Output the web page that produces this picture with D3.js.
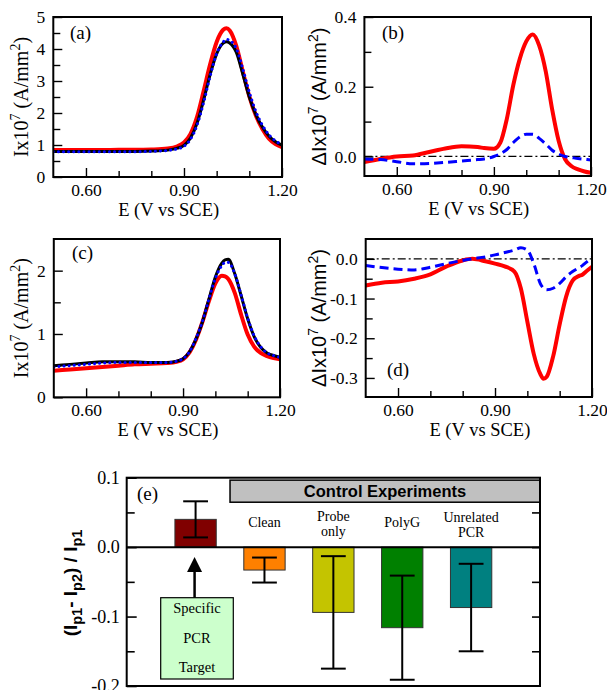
<!DOCTYPE html>
<html>
<head>
<meta charset="utf-8">
<script src="https://cdn.jsdelivr.net/npm/d3@7"></script>
<style>
    body { margin: 0; background: #fff; }
    svg { display: block; }
</style>
</head>
<body>
<script>
// ---- data ----

// (a) voltammograms
var eA = [0.50, 0.55, 0.60, 0.65, 0.70, 0.75, 0.80, 0.85, 0.88, 0.90, 0.92, 0.94, 0.96, 0.98, 1.00, 1.02, 1.03, 1.04, 1.06, 1.08, 1.10, 1.12, 1.14, 1.16, 1.18, 1.20];
var aRed = [0.84, 0.84, 0.84, 0.84, 0.85, 0.85, 0.86, 0.89, 0.96, 1.08, 1.35, 1.88, 2.68, 3.52, 4.22, 4.60, 4.65, 4.58, 4.10, 3.30, 2.52, 1.92, 1.50, 1.20, 1.03, 0.93];
var aBlack = [0.80, 0.80, 0.80, 0.80, 0.80, 0.80, 0.81, 0.84, 0.90, 0.99, 1.22, 1.68, 2.40, 3.20, 3.85, 4.18, 4.23, 4.19, 3.90, 3.22, 2.50, 1.95, 1.56, 1.28, 1.10, 1.00];
var aBlue = [0.79, 0.79, 0.79, 0.79, 0.79, 0.79, 0.80, 0.83, 0.88, 0.96, 1.18, 1.62, 2.32, 3.15, 3.85, 4.22, 4.30, 4.27, 4.02, 3.38, 2.65, 2.05, 1.62, 1.32, 1.13, 1.01];

// (b) difference curves
var eB = [0.50, 0.55, 0.60, 0.65, 0.70, 0.75, 0.80, 0.85, 0.87, 0.90, 0.92, 0.94, 0.96, 0.98, 1.00, 1.02, 1.04, 1.06, 1.08, 1.10, 1.12, 1.14, 1.16, 1.18, 1.20];
var bRed = [-0.016, -0.007, 0.000, 0.003, 0.013, 0.023, 0.029, 0.027, 0.024, 0.022, 0.040, 0.108, 0.205, 0.280, 0.330, 0.350, 0.318, 0.245, 0.135, 0.045, -0.008, -0.028, -0.037, -0.043, -0.047];
var bBlue = [-0.007, -0.009, -0.015, -0.021, -0.020, -0.017, -0.013, -0.009, -0.007, 0.000, 0.008, 0.020, 0.040, 0.056, 0.064, 0.064, 0.052, 0.036, 0.018, 0.007, 0.000, -0.003, -0.006, -0.008, -0.010];

// (c) voltammograms
var eC = [0.50, 0.55, 0.60, 0.65, 0.70, 0.75, 0.80, 0.85, 0.88, 0.90, 0.92, 0.94, 0.96, 0.98, 1.00, 1.02, 1.03, 1.04, 1.06, 1.08, 1.10, 1.12, 1.14, 1.16, 1.18, 1.20];
var cRed = [0.42, 0.44, 0.46, 0.48, 0.50, 0.52, 0.53, 0.54, 0.56, 0.60, 0.71, 0.91, 1.19, 1.52, 1.80, 1.92, 1.91, 1.87, 1.65, 1.30, 0.99, 0.80, 0.70, 0.65, 0.62, 0.60];
var cBlack = [0.50, 0.52, 0.54, 0.56, 0.56, 0.56, 0.55, 0.55, 0.57, 0.61, 0.72, 0.92, 1.19, 1.55, 1.90, 2.12, 2.17, 2.18, 1.95, 1.60, 1.24, 0.96, 0.79, 0.70, 0.66, 0.63];
var cBlue = [0.48, 0.50, 0.52, 0.54, 0.55, 0.55, 0.55, 0.55, 0.57, 0.61, 0.72, 0.93, 1.20, 1.55, 1.88, 2.08, 2.13, 2.13, 1.95, 1.61, 1.25, 0.97, 0.80, 0.70, 0.66, 0.63];

// (d) difference curves
var eD = [0.50, 0.55, 0.60, 0.65, 0.70, 0.75, 0.80, 0.83, 0.87, 0.90, 0.93, 0.96, 0.98, 1.00, 1.02, 1.04, 1.05, 1.06, 1.08, 1.10, 1.12, 1.14, 1.16, 1.17, 1.18, 1.20];
var dRed = [-0.067, -0.060, -0.057, -0.050, -0.039, -0.019, -0.004, 0.000, -0.006, -0.012, -0.019, -0.032, -0.075, -0.158, -0.240, -0.290, -0.302, -0.297, -0.245, -0.165, -0.095, -0.055, -0.043, -0.040, -0.033, -0.020];
var dBlue = [-0.017, -0.022, -0.026, -0.028, -0.021, -0.012, -0.004, 0.000, 0.005, 0.010, 0.016, 0.022, 0.028, 0.022, -0.012, -0.062, -0.074, -0.078, -0.074, -0.062, -0.045, -0.032, -0.022, -0.017, -0.010, 0.003];

// (e) bar chart
var barNames = ["Specific PCR Target", "Clean", "Probe only", "PolyG", "Unrelated PCR"];
var barValues = [0.040, -0.033, -0.094, -0.116, -0.087];
var barErrors = [0.026, 0.018, 0.081, 0.075, 0.063];
var barColors = ["#800000", "#ff8000", "#c4c400", "#008000", "#008080"];

var xTickMajor = [0.6, 0.9, 1.2];
var xTickMinor = [0.7, 0.8, 1.0, 1.1];

var SERIF = "'Liberation Serif', 'Times New Roman', serif";
var SANS = "'Liberation Sans', Arial, sans-serif";

var svg = d3.select("body").append("svg")
    .attr("width", 607)
    .attr("height", 690);

svg.append("rect").attr("width", 607).attr("height", 690).attr("fill", "#fff");

var clipCount = 0;

function fixed1(d) {
    return d.toFixed(1);
}

function createPanel(p) {
    var x = d3.scaleLinear().domain([0.5, 1.2]).range([p.left, p.right]);
    var y = d3.scaleLinear().domain(p.yDomain).range([p.bottom, p.top]);
    var g = svg.append("g");

    // x axis, ticks pointing into the box
    var xMajor = g.append("g")
        .attr("transform", "translate(0," + p.bottom + ")")
        .call(d3.axisBottom(x).tickValues(xTickMajor).tickSizeInner(-9).tickSizeOuter(0)
            .tickPadding(6.5).tickFormat(function (d) { return d.toFixed(2); }));
    g.append("g")
        .attr("transform", "translate(0," + p.bottom + ")")
        .call(d3.axisBottom(x).tickValues(xTickMinor).tickSizeInner(-6).tickSizeOuter(0).tickFormat(""));

    var yMajor = g.append("g")
        .attr("transform", "translate(" + p.left + ",0)")
        .call(d3.axisLeft(y).tickValues(p.yMajor).tickSizeInner(-9).tickSizeOuter(0)
            .tickPadding(8).tickFormat(p.yFormat));
    g.append("g")
        .attr("transform", "translate(" + p.left + ",0)")
        .call(d3.axisLeft(y).tickValues(p.yMinor).tickSizeInner(-7).tickSizeOuter(0).tickFormat(""));

    g.selectAll(".domain").remove();
    g.selectAll(".tick line").attr("stroke", "#000").attr("stroke-width", 1.4);
    [xMajor, yMajor].forEach(function (a) {
        a.selectAll("text")
            .attr("font-family", SERIF)
            .attr("font-size", "17.5px")
            .attr("fill", "#000");
    });

    // clip for the curves
    clipCount++;
    var clipId = "clip" + clipCount;
    g.append("defs").append("clipPath")
        .attr("id", clipId)
        .append("rect")
        .attr("x", p.left)
        .attr("y", p.top)
        .attr("width", p.right - p.left)
        .attr("height", p.bottom - p.top);
    var plot = g.append("g").attr("clip-path", "url(#" + clipId + ")");

    if (p.zeroLine) {
        plot.append("line")
            .attr("x1", x(0.5)).attr("x2", x(1.2))
            .attr("y1", y(0)).attr("y2", y(0))
            .attr("stroke", "#000")
            .attr("stroke-width", 1.3)
            .attr("stroke-dasharray", "8,3,2,3");
    }

    p.series.forEach(function (s) {
        var line = d3.line()
            .curve(d3.curveMonotoneX)
            .x(function (d, i) { return x(p.e[i]); })
            .y(function (d) { return y(d); });
        plot.append("path")
            .datum(s.values)
            .attr("fill", "none")
            .attr("stroke", s.color)
            .attr("stroke-width", s.width)
            .attr("stroke-linecap", s.cap || "butt")
            .attr("stroke-linejoin", "round")
            .attr("stroke-dasharray", s.dash || null)
            .attr("d", line);
    });

    // frame
    g.append("rect")
        .attr("x", p.left).attr("y", p.top)
        .attr("width", p.right - p.left)
        .attr("height", p.bottom - p.top)
        .attr("fill", "none")
        .attr("stroke", "#000")
        .attr("stroke-width", 2);

    // x title
    g.append("text")
        .attr("x", (p.left + p.right) / 2 + 1)
        .attr("y", p.bottom + 39)
        .attr("text-anchor", "middle")
        .attr("font-family", SERIF)
        .attr("font-size", "18.5px")
        .text("E (V vs SCE)");

    // y title with superscripts
    var yt = g.append("text")
        .attr("transform", "translate(" + p.yTitleX + "," + ((p.top + p.bottom) / 2) + ") rotate(-90)")
        .attr("text-anchor", "middle")
        .attr("font-family", p.yTitleFont)
        .attr("font-size", "20px");
    yt.append("tspan").text(p.yTitlePrefix + "x10");
    yt.append("tspan").attr("dy", -8).attr("font-size", "14px").text("7");
    yt.append("tspan").attr("dy", 8).text(" (A/mm");
    yt.append("tspan").attr("dy", -8).attr("font-size", "14px").text("2");
    yt.append("tspan").attr("dy", 8).text(")");

    // panel letter
    g.append("text")
        .attr("x", p.labelX)
        .attr("y", p.labelY)
        .attr("font-family", SERIF)
        .attr("font-size", "19px")
        .text(p.label);
}

createPanel({
    left: 53.3, right: 282, top: 17, bottom: 177,
    yDomain: [0, 5], yMajor: [0, 1, 2, 3, 4, 5], yMinor: [0.5, 1.5, 2.5, 3.5, 4.5],
    yFormat: d3.format("d"),
    yTitleX: 28, yTitleFont: SERIF, yTitlePrefix: "I",
    label: "(a)", labelX: 70, labelY: 39,
    e: eA,
    series: [
        {values: aRed, color: "#ff0000", width: 4},
        {values: aBlack, color: "#000000", width: 3},
        {values: aBlue, color: "#0000ff", width: 3, dash: "0.1,5", cap: "round"}
    ]
});

createPanel({
    left: 364.4, right: 591, top: 17, bottom: 176,
    yDomain: [-0.056, 0.4], yMajor: [0, 0.2, 0.4], yMinor: [0.1, 0.3],
    yFormat: fixed1,
    yTitleX: 326, yTitleFont: SANS, yTitlePrefix: "\u0394I",
    label: "(b)", labelX: 382, labelY: 39,
    zeroLine: true,
    e: eB,
    series: [
        {values: bRed, color: "#ff0000", width: 4},
        {values: bBlue, color: "#0000ff", width: 3, dash: "9,5"}
    ]
});

createPanel({
    left: 53.8, right: 280, top: 239, bottom: 397.3,
    yDomain: [0, 2.5], yMajor: [0, 1, 2], yMinor: [0.5, 1.5],
    yFormat: d3.format("d"),
    yTitleX: 28, yTitleFont: SERIF, yTitlePrefix: "I",
    label: "(c)", labelX: 72, labelY: 259,
    e: eC,
    series: [
        {values: cRed, color: "#ff0000", width: 4},
        {values: cBlack, color: "#000000", width: 3},
        {values: cBlue, color: "#0000ff", width: 3, dash: "0.1,5", cap: "round"}
    ]
});

createPanel({
    left: 365.7, right: 592, top: 239, bottom: 397,
    yDomain: [-0.348, 0.05], yMajor: [0, -0.1, -0.2, -0.3], yMinor: [-0.05, -0.15, -0.25],
    yFormat: fixed1,
    yTitleX: 326, yTitleFont: SANS, yTitlePrefix: "\u0394I",
    label: "(d)", labelX: 387, labelY: 376,
    zeroLine: true,
    e: eD,
    series: [
        {values: dRed, color: "#ff0000", width: 4},
        {values: dBlue, color: "#0000ff", width: 3, dash: "9,5"}
    ]
});

// ---- (e) bar chart ----
function createBars() {
    var left = 126.7, right = 540, top = 477.7, bottom = 686;
    var x = d3.scaleLinear().domain([0, 6]).range([left, right]);
    var y = d3.scaleLinear().domain([-0.2, 0.1]).range([bottom, top]);
    var g = svg.append("g");

    var yl = g.append("g")
        .attr("transform", "translate(" + left + ",0)")
        .call(d3.axisLeft(y).tickValues([0.1, 0, -0.1, -0.2]).tickSizeInner(-10).tickSizeOuter(0)
            .tickPadding(7).tickFormat(fixed1));
    g.append("g")
        .attr("transform", "translate(" + left + ",0)")
        .call(d3.axisLeft(y).tickValues([0.05, -0.05, -0.15]).tickSizeInner(-8).tickSizeOuter(0).tickFormat(""));
    g.append("g")
        .attr("transform", "translate(" + right + ",0)")
        .call(d3.axisRight(y).tickValues([0.05, 0, -0.05, -0.1, -0.15]).tickSizeInner(-8).tickSizeOuter(0).tickFormat(""));
    g.selectAll(".domain").remove();
    g.selectAll(".tick line").attr("stroke", "#000").attr("stroke-width", 1.6);
    yl.selectAll("text")
        .attr("font-family", SERIF)
        .attr("font-size", "18px")
        .attr("fill", "#000");

    // header box
    g.append("rect")
        .attr("x", x(1.5)).attr("y", y(0.0965))
        .attr("width", x(6) - x(1.5))
        .attr("height", y(0.0647) - y(0.0965))
        .attr("fill", "#c0c0c0")
        .attr("stroke", "#000")
        .attr("stroke-width", 1.5);
    g.append("text")
        .attr("x", (x(1.5) + x(6)) / 2)
        .attr("y", y(0.0965) + 16.8)
        .attr("text-anchor", "middle")
        .attr("font-family", SANS)
        .attr("font-weight", "bold")
        .attr("font-size", "16.5px")
        .text("Control Experiments");

    // bars
    g.selectAll("rect.bar")
        .data(barValues)
        .enter().append("rect")
        .attr("class", "bar")
        .attr("x", function (d, i) { return x(i + 1 - 0.3); })
        .attr("width", x(0.6) - x(0))
        .attr("y", function (d) { return y(Math.max(0, d)); })
        .attr("height", function (d) { return Math.abs(y(d) - y(0)); })
        .attr("fill", function (d, i) { return barColors[i]; })
        .attr("stroke", "#333")
        .attr("stroke-width", 1);

    // zero line
    g.append("line")
        .attr("x1", x(0)).attr("x2", x(6))
        .attr("y1", y(0)).attr("y2", y(0))
        .attr("stroke", "#000")
        .attr("stroke-width", 2);

    // error bars
    var eb = g.selectAll("g.err")
        .data(barValues)
        .enter().append("g")
        .attr("class", "err")
        .attr("stroke", "#000")
        .attr("stroke-width", 2);
    eb.append("line")
        .attr("x1", function (d, i) { return x(i + 1); })
        .attr("x2", function (d, i) { return x(i + 1); })
        .attr("y1", function (d, i) { return y(d + barErrors[i]); })
        .attr("y2", function (d, i) { return y(d - barErrors[i]); });
    [1, -1].forEach(function (sign) {
        eb.append("line")
            .attr("x1", function (d, i) { return x(i + 1 - 0.18); })
            .attr("x2", function (d, i) { return x(i + 1 + 0.18); })
            .attr("y1", function (d, i) { return y(d + sign * barErrors[i]); })
            .attr("y2", function (d, i) { return y(d + sign * barErrors[i]); });
    });

    // control labels above the bars
    var labelLines = [[], ["Clean"], ["Probe", "only"], ["PolyG"], ["Unrelated", "PCR"]];
    labelLines.forEach(function (lines, i) {
        if (!lines.length) return;
        var t = g.append("text")
            .attr("text-anchor", "middle")
            .attr("font-family", SERIF)
            .attr("font-size", "14px");
        var y0 = lines.length === 1 ? 527 : (i === 4 ? 521.5 : 520.5);
        lines.forEach(function (s, k) {
            t.append("tspan")
                .attr("x", x(i + 1))
                .attr("y", y0 + k * 15)
                .text(s);
        });
    });

    // specific target callout
    var cx = x(1) - 1;
    g.append("line")
        .attr("x1", cx).attr("x2", cx)
        .attr("y1", 598).attr("y2", 570)
        .attr("stroke", "#000")
        .attr("stroke-width", 2.5);
    g.append("path")
        .attr("d", "M" + (cx - 7.5) + ",572 L" + (cx + 7.5) + ",572 L" + cx + ",557 Z")
        .attr("fill", "#000");
    g.append("rect")
        .attr("x", 160.7).attr("y", 597.7)
        .attr("width", 72.6).attr("height", 81.3)
        .attr("fill", "#ccffcc")
        .attr("stroke", "#000")
        .attr("stroke-width", 1.2);
    var calloutLines = barNames[0].split(" ");
    calloutLines.forEach(function (s, k) {
        g.append("text")
            .attr("x", 197)
            .attr("y", 613 + k * 29.5)
            .attr("text-anchor", "middle")
            .attr("font-family", SERIF)
            .attr("font-size", "14.5px")
            .text(s);
    });

    // frame
    g.append("rect")
        .attr("x", left).attr("y", top)
        .attr("width", right - left).attr("height", bottom - top)
        .attr("fill", "none")
        .attr("stroke", "#000")
        .attr("stroke-width", 2);

    g.append("text")
        .attr("x", 137).attr("y", 500)
        .attr("font-family", SERIF)
        .attr("font-size", "19px")
        .text("(e)");

    // y title: (Ip1- Ip2) / Ip1
    var yt = g.append("text")
        .attr("transform", "translate(77,583) rotate(-90)")
        .attr("text-anchor", "middle")
        .attr("font-family", SANS)
        .attr("font-weight", "bold")
        .attr("font-size", "19px");
    yt.append("tspan").text("(I");
    yt.append("tspan").attr("dy", 5).attr("font-size", "14.5px").text("p1");
    yt.append("tspan").attr("dy", -5).text("- I");
    yt.append("tspan").attr("dy", 5).attr("font-size", "14.5px").text("p2");
    yt.append("tspan").attr("dy", -5).text(") / I");
    yt.append("tspan").attr("dy", 5).attr("font-size", "14.5px").text("p1");
}

createBars();
</script>
</body>
</html>
